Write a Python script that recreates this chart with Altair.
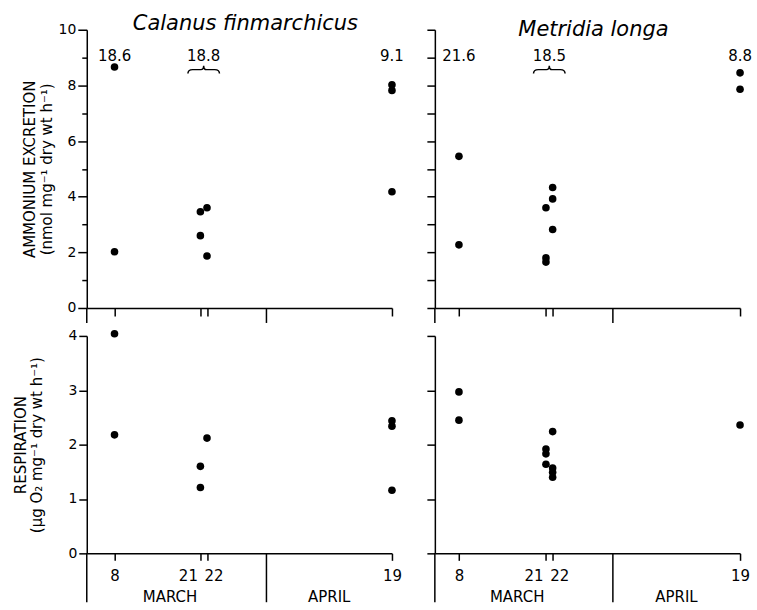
import altair as alt
import pandas as pd

FONT = "DejaVu Sans"

# Sampling dates as day numbers: March d -> d, April d -> 31 + d
cal_amm_day = [8, 8, 21, 21, 22, 22, 50, 50, 50]
cal_amm_val = [8.66, 2.02, 3.46, 2.6, 3.6, 1.87, 8.02, 7.82, 4.18]
cal_resp_day = [8, 8, 21, 21, 22, 50, 50, 50]
cal_resp_val = [4.04, 2.18, 1.6, 1.21, 2.12, 2.44, 2.34, 1.16]
met_amm_day = [8, 8, 21, 21, 21, 22, 22, 22, 50, 50]
met_amm_val = [5.45, 2.27, 3.6, 1.8, 1.65, 4.33, 3.92, 2.82, 8.45, 7.86]
met_resp_day = [8, 8, 21, 21, 21, 22, 22, 22, 22, 50]
met_resp_val = [2.97, 2.45, 1.92, 1.83, 1.64, 2.24, 1.57, 1.49, 1.40, 2.36]

cal_note_day = [8, 21.5, 50]
cal_note_text = ["18.6", "18.8", "9.1"]
met_note_day = [8, 21.5, 50]
met_note_text = ["21.6", "18.5", "8.8"]
brace_day = [21.5]

tick_days = [8, 21, 22, 50]
tick_labels = ["8", "21", "22", "19"]
month_end_day = 31
month_names = ["MARCH", "APRIL"]

amm_ticks = list(range(0, 11))
resp_ticks = list(range(0, 5))

label_expr = " : ".join(
    f"datum.value == {d} ? '{t}'" for d, t in zip(tick_days, tick_labels)
) + " : datum.label"

# curly brace (peak up), unit symbol coordinates
BRACE_PATH = ("M -1 0.25 Q -1 0 -0.7 0 L -0.18 0 Q 0 0 0 -0.25 "
              "Q 0 0 0.18 0 L 0.7 0 Q 1 0 1 0.25")

W = 306
H_TOP = 279
H_BOT = 218


def panel(days, vals, ymax, yticks, xdom, left, top, ytitle=None, title=None,
          notes_day=None, notes_text=None, even_only=False, title_pad=8):
    df = pd.DataFrame({"day": days, "val": vals})
    h = H_TOP if top else H_BOT
    ext = 15 if top else 49

    xaxis = alt.Axis(
        values=tick_days, title=None, grid=False, labels=not top,
        labelExpr=label_expr, labelFlush=False, labelOverlap=False,
        tickSize=8 if top else 7, labelPadding=8, labelFontSize=15,
        labelAlign={"condition": [
            {"test": "datum.value == 21", "value": "right"},
            {"test": "datum.value == 22", "value": "left"}], "value": "center"},
        labelOffset={"condition": {"test": "datum.value == 21 || datum.value == 22",
                                   "value": -3}, "value": 0},
    )
    yax = dict(values=yticks, grid=False, labels=left, labelFontSize=14,
               labelPadding=2, tickSize=8)
    if even_only:
        yax["labelExpr"] = "datum.value % 2 == 0 ? datum.label : ''"
        yax["tickSize"] = {"condition": {"test": "datum.value % 2 == 1", "value": 5},
                           "value": 9}
    if left and ytitle:
        yax.update(title=ytitle, titleFontSize=15, titleFontWeight="normal",
                   titlePadding=title_pad, titleColor="black", titleLineHeight=17)
    else:
        yax["title"] = None
    yaxis = alt.Axis(**yax)

    x = alt.X("day:Q", scale=alt.Scale(domain=xdom, nice=False, zero=False), axis=xaxis)
    y = alt.Y("val:Q", scale=alt.Scale(domain=[0, ymax], nice=False), axis=yaxis)

    pts = alt.Chart(df).mark_circle(size=58, color="black", opacity=1).encode(x=x, y=y)

    sep = alt.Chart(pd.DataFrame({"day": [month_end_day]})).mark_rule(
        color="black", strokeWidth=1.5).encode(
        x="day:Q", y=alt.value(h), y2=alt.value(h + ext))
    yext = alt.Chart(pd.DataFrame({"day": [0]})).mark_rule(
        color="black", strokeWidth=1.5).encode(
        x=alt.value(0), y=alt.value(h), y2=alt.value(h + ext))
    layers = [pts, sep, yext]

    if top:
        ndf = pd.DataFrame({"day": notes_day, "txt": notes_text})
        notes = alt.Chart(ndf).mark_text(
            font=FONT, fontSize=15, color="black", baseline="middle").encode(
            x="day:Q", y=alt.value(26), text="txt:N")
        brace = alt.Chart(pd.DataFrame({"day": brace_day})).mark_point(
            shape=BRACE_PATH, size=1000, filled=False, color="black",
            strokeWidth=1.5, opacity=1).encode(
            x="day:Q", y=alt.value(40))
        layers += [notes, brace]
    else:
        mdf = pd.DataFrame({"day": [(xdom[0] + month_end_day) / 2 - 1,
                                    (month_end_day + tick_days[-1]) / 2],
                            "m": month_names})
        months = alt.Chart(mdf).mark_text(
            font=FONT, fontSize=15, color="black", baseline="middle").encode(
            x="day:Q", y=alt.value(h + 44), text="m:N")
        layers.append(months)

    props = dict(width=W, height=h)
    if title:
        props["title"] = alt.TitleParams(
            title, font=FONT, fontSize=21, fontStyle="italic", fontWeight="normal",
            anchor="middle", offset=-11, dx=6, color="black")
    return alt.layer(*layers).properties(**props)


TL = panel(cal_amm_day, cal_amm_val, 10, amm_ticks, [3.8, 50], True, True,
           ytitle=["AMMONIUM EXCRETION", "(nmol mg\u207b\u00b9 dry wt h\u207b\u00b9)"],
           title="Calanus finmarchicus", notes_day=cal_note_day,
           notes_text=cal_note_text, even_only=True, title_pad=4)
TR = panel(met_amm_day, met_amm_val, 10, amm_ticks, [4.4, 50], False, True,
           title="Metridia longa", notes_day=met_note_day, notes_text=met_note_text)
BL = panel(cal_resp_day, cal_resp_val, 4, resp_ticks, [3.8, 50], True, False,
           ytitle=["RESPIRATION", "(\u03bcg O\u2082 mg\u207b\u00b9 dry wt h\u207b\u00b9)"],
           title_pad=23)
BR = panel(met_resp_day, met_resp_val, 4, resp_ticks, [4.4, 50], False, False)

chart = alt.concat(TL, TR, BL, BR, columns=2,
                   spacing={"row": 28, "column": 43}, bounds="flush").properties(
    padding={"left": 13, "top": 12, "right": 5, "bottom": 5},
    background="white",
).configure_view(stroke=None).configure_axis(
    domainColor="black", tickColor="black", labelColor="black",
    labelFont=FONT, titleFont=FONT, domainWidth=1.5, tickWidth=1.5, grid=False,
)

chart.save("out.html", embed_options={"renderer": "svg", "actions": False})
